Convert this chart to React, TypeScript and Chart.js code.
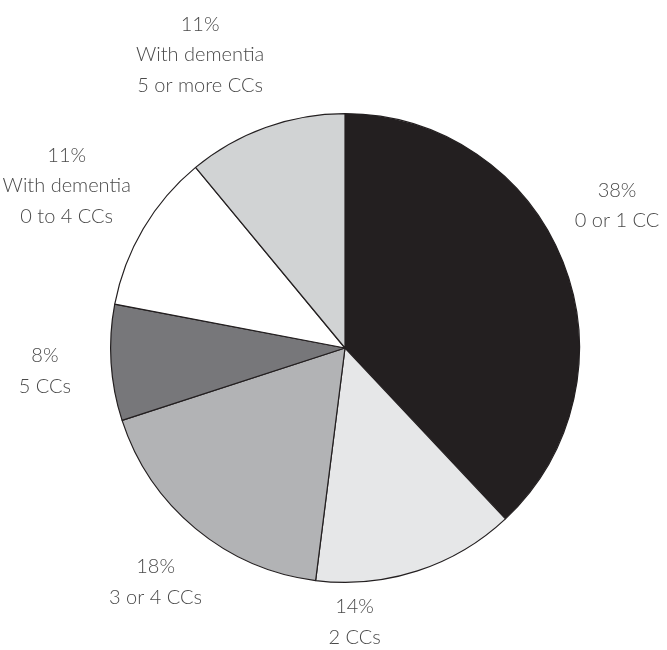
import React, { useEffect, useRef } from "react";
import { Chart, registerables } from "chart.js";

Chart.register(...registerables);

const categories = [
  "0 or 1 CC",
  "2 CCs",
  "3 or 4 CCs",
  "5 CCs",
  "With dementia|0 to 4 CCs",
  "With dementia|5 or more CCs",
];
const shares = [38, 14, 18, 8, 11, 11];
const sliceColors = ["#231f20", "#e6e7e8", "#b2b3b5", "#77777a", "#ffffff", "#d1d3d4"];
// label block placement: angle (deg clockwise from top) and distance from pie centre
const labelAngles = [62.4, 178, 219, 265.6, 300.2, 333.7];
const labelDistances = [307, 274, 301, 301, 322, 327];

const labelPlugin = {
  id: "outerLabels",
  afterDraw(chart: any) {
    const ctx = chart.ctx;
    const meta = chart.getDatasetMeta(0);
    ctx.save();
    ctx.font = "300 20px Lato";
    ctx.fillStyle = "#4a4a4a";
    ctx.textAlign = "center";
    ctx.textBaseline = "middle";
    const lineH = 30.5;
    meta.data.forEach((arc: any, i: number) => {
      const lines = [shares[i] + "%", ...categories[i].split("|")];
      const a = (labelAngles[i] * Math.PI) / 180;
      const cx = arc.x + Math.sin(a) * labelDistances[i];
      const cy = arc.y - Math.cos(a) * labelDistances[i];
      const top = cy - ((lines.length - 1) * lineH) / 2;
      lines.forEach((t, j) => ctx.fillText(t, cx, top + j * lineH));
    });
    ctx.restore();
  },
};

export default function App() {
  const ref = useRef<HTMLCanvasElement>(null);
  useEffect(() => {
    document.body.style.margin = "0";
    const chart = new Chart(ref.current!, {
      type: "pie",
      data: {
        labels: categories,
        datasets: [
          {
            data: shares,
            backgroundColor: sliceColors,
            borderColor: "#231f20",
            borderWidth: 1.2,
          },
        ],
      },
      options: {
        animation: false,
        responsive: false,
        layout: { padding: { left: 110, right: 87, top: 113, bottom: 67 } },
        plugins: { legend: { display: false }, tooltip: { enabled: false } },
      },
      plugins: [labelPlugin],
    });
    return () => chart.destroy();
  }, []);
  return (
    <div style={{ width: 667, height: 650, background: "#fff" }}>
      <canvas ref={ref} width={667} height={650} />
    </div>
  );
}
